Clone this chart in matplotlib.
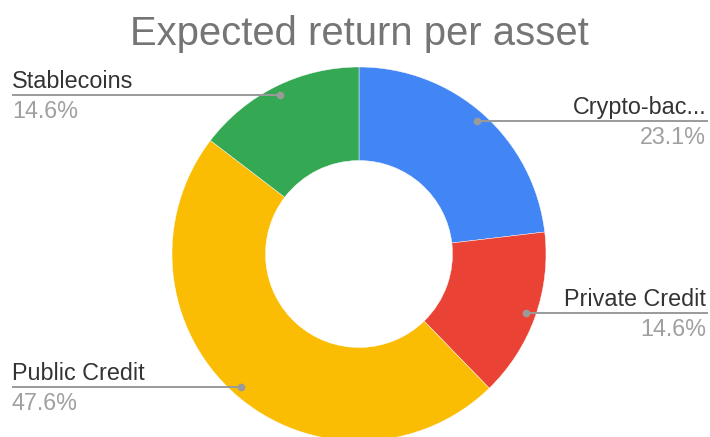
import numpy as np
import matplotlib
matplotlib.use("Agg")
import matplotlib.pyplot as plt

# ---- data ----
categories = ["Crypto-bac...", "Private Credit", "Public Credit", "Stablecoins"]
values = [23.1, 14.6, 47.6, 14.6]
pct_labels = ["23.1%", "14.6%", "47.6%", "14.6%"]
colors = ["#4285F4", "#EA4335", "#FBBC04", "#34A853"]
title = "Expected return per asset"

W, H = 710, 437
plt.rcParams['font.family'] = ['Liberation Sans', 'DejaVu Sans']
fig = plt.figure(figsize=(W / 100, H / 100), dpi=100)
ax = fig.add_axes([0, 0, 1, 1])

cx, cy, R = 359, H - 254, 187
wedges, _ = ax.pie(values, colors=colors, startangle=90, counterclock=False,
                   center=(cx, cy), radius=R,
                   wedgeprops=dict(width=R * 0.5, edgecolor="white", linewidth=0.3))
ax.set_xlim(0, W)
ax.set_ylim(0, H)
ax.set_aspect("equal")
ax.axis("off")

line_col = "#9a9a9a"
for w, cat, pct in zip(wedges, categories, pct_labels):
    mid = np.deg2rad((w.theta1 + w.theta2) / 2)
    px = cx + 0.95 * R * np.cos(mid)
    py = cy + 0.95 * R * np.sin(mid)
    if np.cos(mid) >= 0:
        xe, ha = 708, "right"
        xt = 706
    else:
        xe, ha = 12, "left"
        xt = 12
    ax.plot([px, xe], [py, py], color=line_col, lw=1.4, solid_capstyle="butt", zorder=3)
    ax.plot([px], [py], marker="o", ms=5.5, color=line_col, mec="none", zorder=4)
    ax.text(xt, py + 7, cat, ha=ha, va="baseline", fontsize=16.8, color="#333333")
    ax.text(xt, py - 23, pct, ha=ha, va="baseline", fontsize=16.8, color="#A0A0A0")

ax.text(359, H - 45, title, ha="center", va="baseline", fontsize=28.8, color="#757575")

fig.savefig("out.png", dpi=100)
